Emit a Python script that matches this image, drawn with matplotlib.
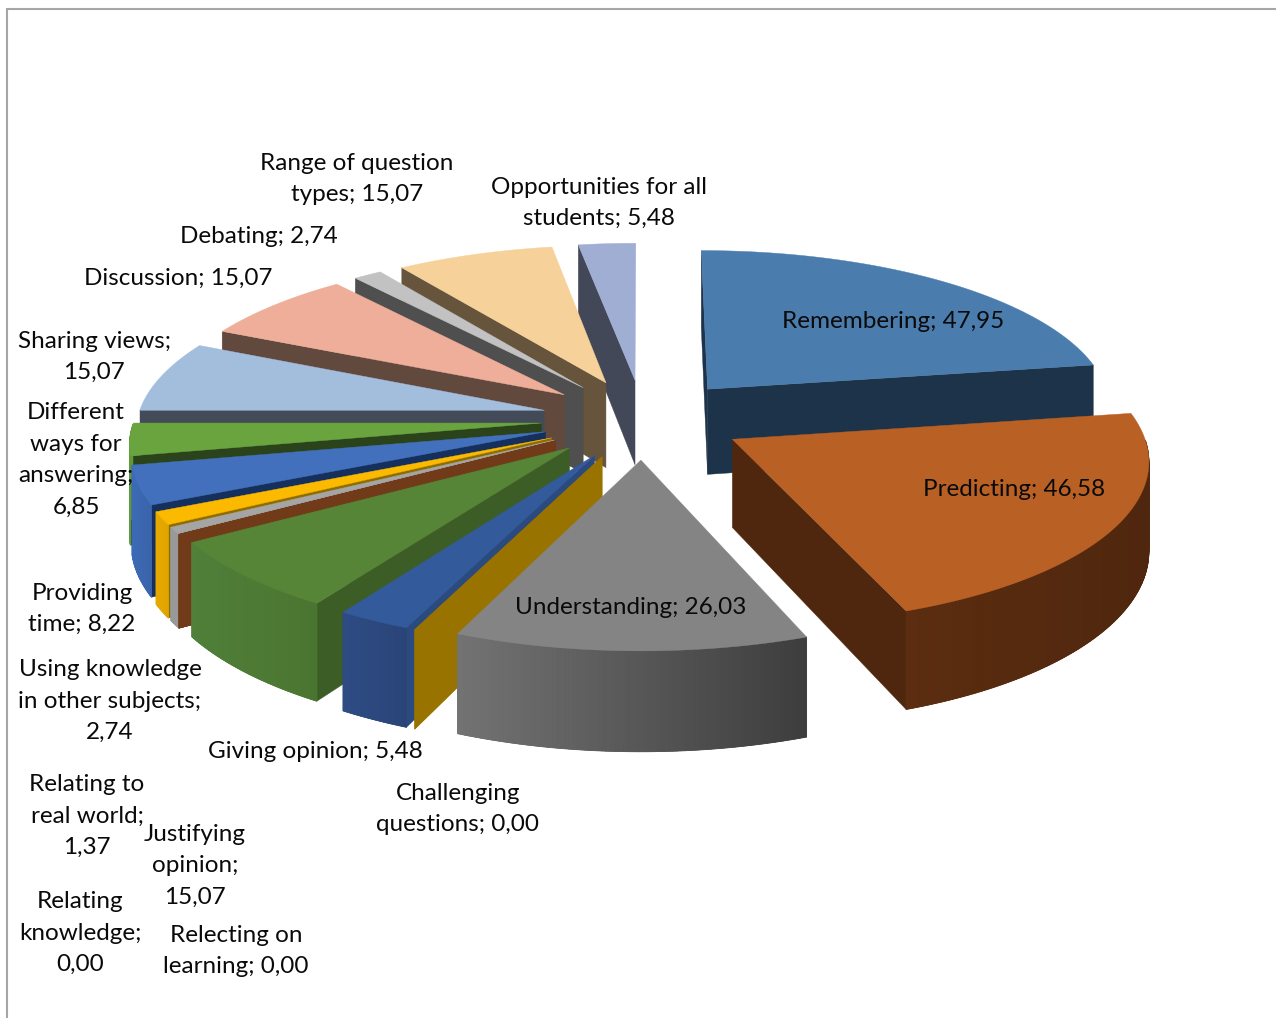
import numpy as np
import matplotlib
matplotlib.use("Agg")
import matplotlib.pyplot as plt
from matplotlib.colors import to_rgb

names = ["Remembering", "Predicting", "Understanding", "Challenging questions", "Giving opinion",
         "Justifying opinion", "Relecting on learning", "Relating knowledge", "Relating to real world",
         "Using knowledge in other subjects", "Providing time", "Different ways for answering",
         "Sharing views", "Discussion", "Debating", "Range of question types",
         "Opportunities for all students"]
values = [47.95, 46.58, 26.03, 0.00, 5.48, 15.07, 0.00, 0.00, 1.37, 2.74, 8.22, 6.85, 15.07, 15.07, 2.74, 15.07, 5.48]

top_colors = ["#4a7dad", "#b96025", "#848484", "#997300", "#335a9b", "#568537", "#713a18", "#713a18", "#a5a5a5",
              "#fbb900", "#4270bd", "#6aa43f", "#a3bddd", "#eeae99", "#c2c2c2", "#f6d199", "#a0aed4"]
wall_colors = ["#1d3349", "#4f270e", "#4a4a4a", "#997300", "#2a4a80", "#3c5e26", "#713a18", "#713a18", "#8f8f8f",
               "#8f6c00", "#16305e", "#2b431b", "#434b58", "#61493e", "#4f4f4f", "#67543c", "#424858"]
arc_left = ["#1d3349", "#5c2d10", "#737373", "#997300", "#2e4c84", "#50803a", "#713a18", "#713a18", "#999999",
            "#e6aa00", "#3d6ab5", "#5f9a38", "#434b58", "#61493e", "#4f4f4f", "#67543c", "#424858"]
arc_right = ["#1d3349", "#4f270e", "#3d3d3d", "#997300", "#2a4478", "#4a7530", "#713a18", "#713a18", "#999999",
             "#e0a400", "#3a64ab", "#5f9a38", "#434b58", "#61493e", "#4f4f4f", "#67543c", "#424858"]

labels = [
    ("Range of question\ntypes; 15,07", 357, 179),
    ("Opportunities for all\nstudents; 5,48", 599, 203),
    ("Remembering; 47,95", 893, 322),
    ("Predicting; 46,58", 1014, 489),
    ("Understanding; 26,03", 631, 607),
    ("Challenging\nquestions; 0,00", 458, 809),
    ("Giving opinion; 5,48", 315, 751),
    ("Justifying\nopinion;\n15,07", 195, 866),
    ("Relecting on\nlearning; 0,00", 236, 951),
    ("Relating\nknowledge;\n0,00", 80, 933),
    ("Relating to\nreal world;\n1,37", 87, 816),
    ("Using knowledge\nin other subjects;\n2,74", 110, 701),
    ("Providing\ntime; 8,22", 82, 609),
    ("Different\nways for\nanswering;\n6,85", 76, 460),
    ("Sharing views;\n15,07", 94, 357),
    ("Discussion; 15,07", 178, 278),
    ("Debating; 2,74", 259, 236),
]

CX, CY = 643, 419
R = 407
TY = 160
P = 0.11
H = 87
EXPLODE = 0.25


def project(u, v, down=0):
    s = 1 / (1 + P * v)
    return CX + R * u * s, CY - TY * v * s + H * down * s


def side(p, a, b):
    return (b[0] - a[0]) * (p[1] - a[1]) - (b[1] - a[1]) * (p[0] - a[0])


fig = plt.figure(figsize=(12.76, 10.18), dpi=100)
ax = fig.add_axes([0, 0, 1, 1])
ax.set_xlim(0, 1276)
ax.set_ylim(1018, 0)
ax.axis("off")

ax.plot([7, 7, 1276], [1018, 9, 9], color="#a6a6a6", lw=1.5, solid_joinstyle="miter")

edges = np.concatenate([[0], np.cumsum(values)]) * 360 / sum(values)
slices = []
for i in range(len(values)):
    a0, a1 = np.radians(edges[i]), np.radians(edges[i + 1])
    slices.append((i, a0, a1, (a0 + a1) / 2))
slices.sort(key=lambda t: -np.cos(t[3]))

for i, a0, a1, mid in slices:
    tu, tv = EXPLODE * np.sin(mid), EXPLODE * np.cos(mid)
    th = np.linspace(a0, a1, max(2, int(np.degrees(a1 - a0) * 2)))
    ru, rv = tu + np.sin(th), tv + np.cos(th)
    tip = project(tu, tv)
    rim = [project(a, b) for a, b in zip(ru, rv)]
    rim_low = [project(a, b, 1) for a, b in zip(ru, rv)]
    tip_low = project(tu, tv, 1)

    # radial walls, only those that face the viewer
    for k in [0, -1]:
        if a1 == a0:
            show = True
        elif abs(rim[k][0] - tip[0]) < 1:
            show = False
        else:
            other = rim[-1] if k == 0 else rim[0]
            s_other = side(other, tip, rim[k])
            s_below = side((rim[k][0], rim[k][1] + 50), tip, rim[k])
            show = s_other * s_below < 0
        if show:
            xs = [tip[0], rim[k][0], rim_low[k][0], tip_low[0]]
            ys = [tip[1], rim[k][1], rim_low[k][1], tip_low[1]]
            ax.fill(xs, ys, color=wall_colors[i], lw=0.3)

    if a1 == a0:
        continue

    # arc wall: one solid band first so the facets leave no seams, then shaded facets
    c_l, c_r = np.array(to_rgb(arc_left[i])), np.array(to_rgb(arc_right[i]))
    front = [j for j in range(len(th)) if np.cos(th[j]) <= 0]
    if len(front) > 1:
        xs = [rim[j][0] for j in front] + [rim_low[j][0] for j in front[::-1]]
        ys = [rim[j][1] for j in front] + [rim_low[j][1] for j in front[::-1]]
        ax.fill(xs, ys, color=(c_l + c_r) / 2, lw=0.2)
        x_l = min(rim[j][0] for j in front)
        x_r = max(rim[j][0] for j in front)
        for j in front[:-1]:
            f = ((rim[j][0] + rim[j + 1][0]) / 2 - x_l) / (x_r - x_l)
            col = c_l + (c_r - c_l) * f
            xs = [rim[j][0], rim[j + 1][0], rim_low[j + 1][0], rim_low[j][0]]
            ys = [rim[j][1], rim[j + 1][1], rim_low[j + 1][1], rim_low[j][1]]
            ax.fill(xs, ys, color=col, lw=0.6)

    xs = [tip[0]] + [p[0] for p in rim]
    ys = [tip[1]] + [p[1] for p in rim]
    ax.fill(xs, ys, color=top_colors[i], lw=0.3)

for txt, x, y in labels:
    ax.text(x, y, txt, ha="center", va="center", fontsize=17.5, family="Lato", color="#0a0a0a",
            linespacing=1.62, zorder=5)

fig.savefig("out.png", dpi=100)
